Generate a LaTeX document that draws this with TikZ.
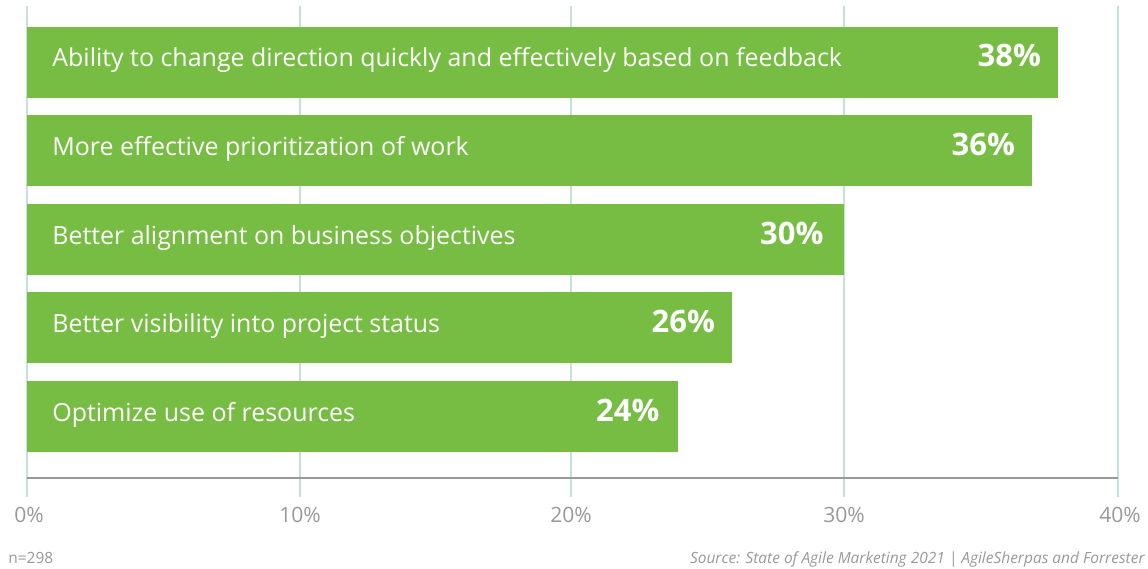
\documentclass[tikz,border=0pt]{standalone}
\usepackage{fontspec}
\setmainfont{Open Sans}
\usepackage{tikz}
\usetikzlibrary{positioning}
\definecolor{agile}{HTML}{78BD43}
\definecolor{gridteal}{HTML}{C3E2DE}
\definecolor{axisgray}{HTML}{999999}

\begin{document}
\begin{tikzpicture}[x=0.2mm,y=-0.2mm,
  bar/.style={fill=agile,inner sep=0pt,minimum height=14.2mm,anchor=north west},
  lbl/.style={text=white,font=\fontsize{14.2}{17}\selectfont,anchor=base west,inner sep=0pt},
  pct/.style={text=white,font=\fontsize{17.6}{21}\selectfont\bfseries,anchor=base east,inner sep=0pt},
  tick/.style={text=axisgray,font=\fontsize{12}{14}\selectfont,anchor=base,inner sep=0pt},
  grid/.style={draw=gridteal,line width=0.25mm}]
\useasboundingbox (0,0) rectangle (1148,568);
% grid lines
\draw[grid] (27,6) -- (27,497);
\draw[grid] (300,6) -- (300,497);
\draw[grid] (571,6) -- (571,497);
\draw[grid] (844,6) -- (844,497);
\draw[grid] (1118,6) -- (1118,497);
% bars
\node[bar,minimum width=206.2mm] (ability) at (27,27) {};
\node[bar,minimum width=201mm] (priority) at (27,115) {};
\node[bar,minimum width=163.4mm] (alignment) at (27,204) {};
\node[bar,minimum width=141mm] (visibility) at (27,292) {};
\node[bar,minimum width=130.2mm] (resources) at (27,381) {};
% labels
\node[lbl] (abilitylbl) at ([xshift=5mm,yshift=-8mm]ability.north west) {Ability to change direction quickly and effectively based on feedback};
\node[lbl] (prioritylbl) at ([xshift=5mm,yshift=-8mm]priority.north west) {More effective prioritization of work};
\node[lbl] (alignmentlbl) at ([xshift=5mm,yshift=-8mm]alignment.north west) {Better alignment on business objectives};
\node[lbl] (visibilitylbl) at ([xshift=5mm,yshift=-8mm]visibility.north west) {Better visibility into project status};
\node[lbl] (resourceslbl) at ([xshift=5mm,yshift=-8mm]resources.north west) {Optimize use of resources};
% values
\node[pct] (abilitypct) at ([xshift=-3.5mm,yshift=-8mm]ability.north east) {38\%};
\node[pct] (prioritypct) at ([xshift=-3.5mm,yshift=-8mm]priority.north east) {36\%};
\node[pct] (alignmentpct) at ([xshift=-4.2mm,yshift=-8mm]alignment.north east) {30\%};
\node[pct] (visibilitypct) at ([xshift=-3.5mm,yshift=-8mm]visibility.north east) {26\%};
\node[pct] (resourcespct) at ([xshift=-3.8mm,yshift=-8mm]resources.north east) {24\%};
% axis
\draw[axisgray,line width=0.4mm] (27,478) -- (1118,478);
\node[tick] (t0) at (29,522) {0\%};
\node[tick] (t10) at (300,522) {10\%};
\node[tick] (t20) at (571,522) {20\%};
\node[tick] (t30) at (844,522) {30\%};
\node[tick] (t40) at (1120,522) {40\%};
% footer
\node[text=axisgray,font=\fontsize{8.8}{10}\selectfont,anchor=base west,inner sep=0pt] (sample) at (8,563) {n=298};
\node[text=axisgray,font=\fontsize{8.8}{10}\selectfont\itshape,anchor=base east,inner sep=0pt] (source) at (1145,563) {Source: State of Agile Marketing 2021 | AgileSherpas and Forrester};
\end{tikzpicture}
\end{document}
